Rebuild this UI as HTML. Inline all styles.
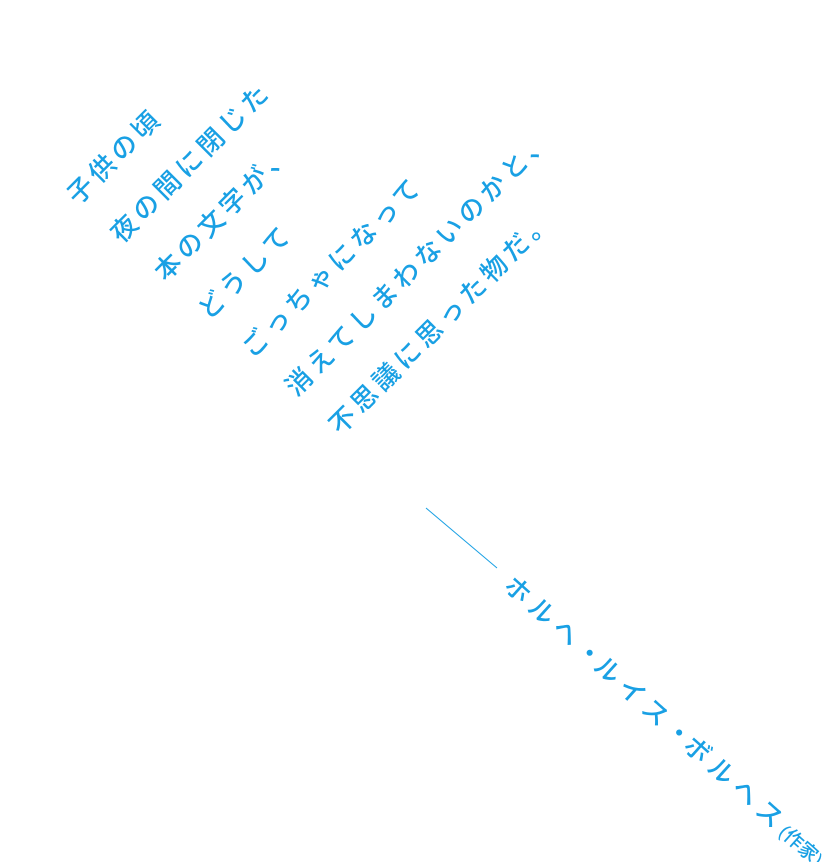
<!DOCTYPE html>
<html><head><meta charset="utf-8"><style>
html,body{margin:0;padding:0;background:#fff;width:824px;height:862px;overflow:hidden;position:relative}
.t{position:absolute;color:#19a0e4;font-family:"Liberation Sans","Noto Sans CJK JP",sans-serif;font-size:26px;font-weight:500;white-space:nowrap;transform-origin:0 0}
.poem{left:51px;top:179px;transform:rotate(-45deg);line-height:58px;letter-spacing:4.6px}
.poem div:nth-child(2){padding-left:3.8px}
.poem div:nth-child(3){padding-left:7.6px}
.poem div:nth-child(4){padding-left:11.4px}
.poem div:nth-child(5){padding-left:15.2px}
.poem div:nth-child(6){padding-left:19px}
.poem div:nth-child(7){padding-left:22.8px}
.auth{left:518px;top:570px;transform:rotate(41.7deg);line-height:30px;letter-spacing:6.2px}
.auth .d{letter-spacing:0;margin:0 -1px}
.auth small{font-size:19px;letter-spacing:0}
</style></head><body>
<div class="t poem"><div>子供の頃</div><div>夜の間に閉じた</div><div>本の文字が、</div><div>どうして</div><div>ごっちゃになって</div><div>消えてしまわないのかと、</div><div>不思議に思った物だ。</div></div>
<svg width="824" height="862" style="position:absolute;left:0;top:0"><line x1="426" y1="508" x2="497" y2="568" stroke="#19a0e4" stroke-width="1"/></svg>
<div class="t auth">ホルヘ<span class="d">・</span>ルイス<span class="d">・</span>ボルヘス<small>(作家)</small></div>
</body></html>
